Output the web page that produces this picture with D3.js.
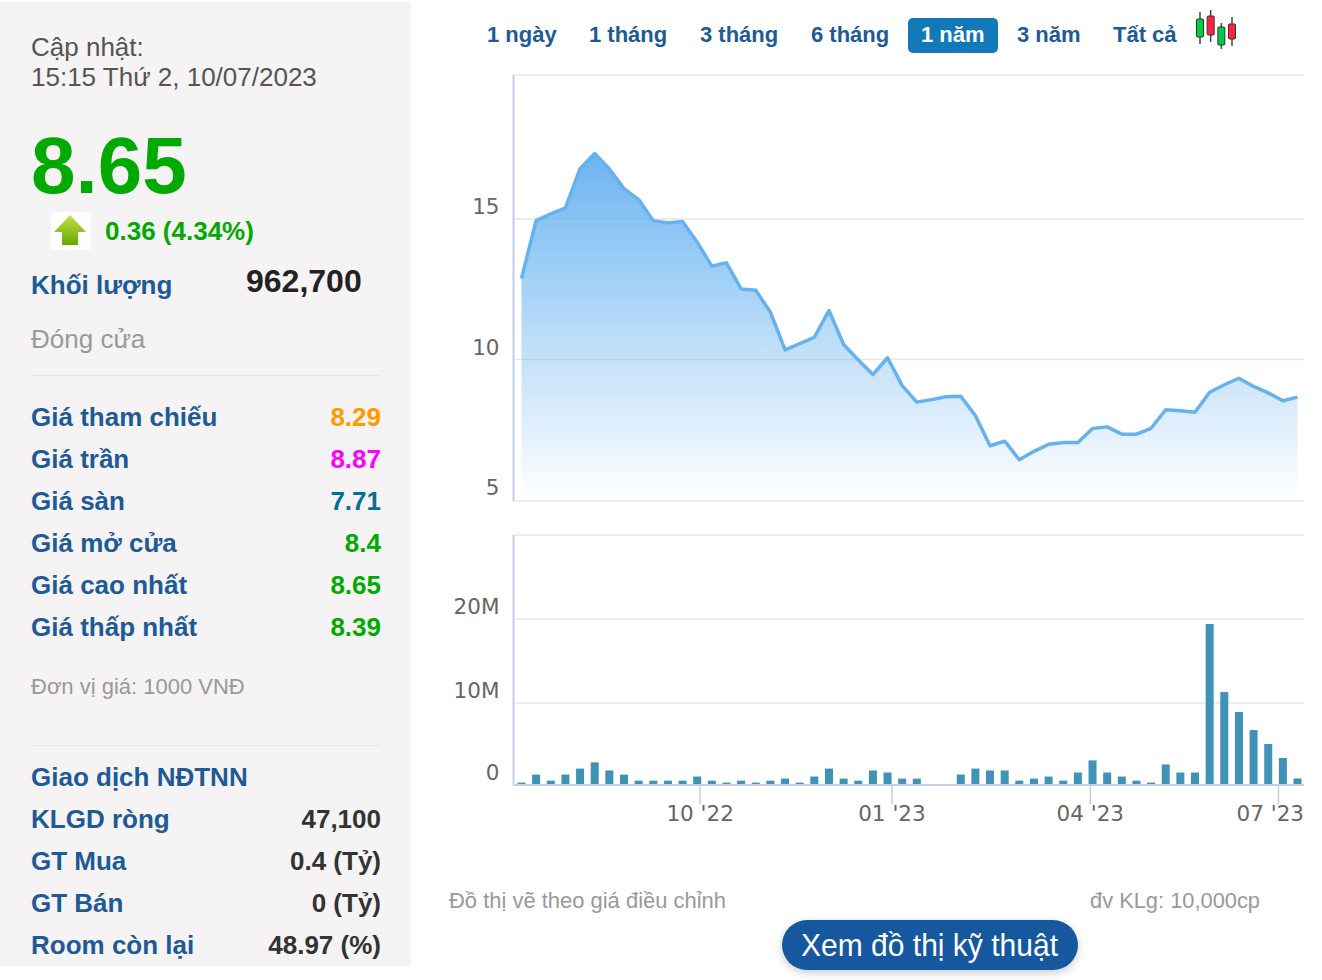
<!DOCTYPE html>
<html>
<head>
<meta charset="utf-8">
<script src="https://cdn.jsdelivr.net/npm/d3@7"></script>
<style>
  html, body { margin: 0; padding: 0; background: #fff; }
  svg { display: block; }
  text { font-family: "Liberation Sans", Arial, sans-serif; }
  .axis text { font-family: "DejaVu Sans", sans-serif; font-size: 21.5px; fill: #666; }
  .axis .domain { display: none; }
</style>
</head>
<body>
<svg id="chart" width="1322" height="980"></svg>
<script>
// weekly closing price, one value per week
const prices = [12.9, 14.96, 15.2, 15.41, 16.81, 17.35, 16.8, 16.1, 15.71, 14.96, 14.88, 14.93, 14.19, 13.34,
  13.46, 12.53, 12.48, 11.7, 10.36, 10.58, 10.81, 11.76, 10.55, 10.0, 9.48, 10.08, 9.09, 8.5, 8.59, 8.69, 8.71,
  8.02, 6.95, 7.11, 6.45, 6.75, 7.0, 7.06, 7.06, 7.56, 7.62, 7.36, 7.36, 7.57, 8.23, 8.19, 8.14, 8.85, 9.12,
  9.35, 9.06, 8.83, 8.55, 8.68];
// weekly volume in millions of shares
const volumes = [0.29, 1.27, 0.53, 1.27, 2.0, 2.76, 1.77, 1.27, 0.53, 0.53, 0.53, 0.53, 1.03, 0.53, 0.29, 0.53,
  0.29, 0.53, 0.78, 0.29, 1.03, 2.0, 0.78, 0.53, 1.77, 1.52, 0.78, 0.78, 0, 0, 1.27, 2.0, 1.77, 1.77, 0.53, 0.78,
  1.03, 0.53, 1.52, 3.0, 1.52, 1.03, 0.53, 0.29, 2.51, 1.52, 1.52, 19.4, 11.3, 8.9, 6.7, 5.0, 3.3, 0.8];

const priceTicks = [5, 10, 15];
const volumeTicks = [0, 10, 20];
const volumeLabels = ["0", "10M", "20M"];
const monthTicks = [12.2, 25.3, 38.85, 51.7];
const monthLabels = ["10 '22", "01 '23", "04 '23", "07 '23"];

const ranges = ["1 ngày", "1 tháng", "3 tháng", "6 tháng", "1 năm", "3 năm", "Tất cả"];
const activeRange = "1 năm";

const quoteLabels = ["Giá tham chiếu", "Giá trần", "Giá sàn", "Giá mở cửa", "Giá cao nhất", "Giá thấp nhất"];
const quoteValues = ["8.29", "8.87", "7.71", "8.4", "8.65", "8.39"];
const foreignLabels = ["KLGD ròng", "GT Mua", "GT Bán", "Room còn lại"];
const foreignValues = ["47,100", "0.4 (Tỷ)", "0 (Tỷ)", "48.97 (%)"];

const svg = d3.select("#chart");
const BLUE = "#1d5a96";
const GREEN = "#00aa00";

// gradient for the price area
const defs = svg.append("defs");
const grad = defs.append("linearGradient").attr("id", "areaFill")
  .attr("x1", 0).attr("y1", 0).attr("x2", 0).attr("y2", 1);
grad.append("stop").attr("offset", "0%").attr("stop-color", "#64b0f0").attr("stop-opacity", 0.95);
grad.append("stop").attr("offset", "100%").attr("stop-color", "#6ab4f0").attr("stop-opacity", 0);
const arrowGrad = defs.append("linearGradient").attr("id", "arrowFill")
  .attr("x1", 0).attr("y1", 0).attr("x2", 0).attr("y2", 1);
arrowGrad.append("stop").attr("offset", "0%").attr("stop-color", "#c4e04a");
arrowGrad.append("stop").attr("offset", "100%").attr("stop-color", "#66a800");
const shadow = defs.append("filter").attr("id", "btnShadow")
  .attr("x", "-10%").attr("y", "-30%").attr("width", "120%").attr("height", "170%");
shadow.append("feDropShadow").attr("dx", 0).attr("dy", 3).attr("stdDeviation", 4)
  .attr("flood-color", "#000").attr("flood-opacity", 0.2);

// Left panel
svg.append("rect").attr("x", 0).attr("y", 2).attr("width", 411).attr("height", 964).attr("fill", "#f5f3f4");

const addText = (str, x, y, size, color, opts = {}) =>
  svg.append("text").text(str).attr("x", x).attr("y", y)
    .attr("font-size", size).attr("fill", color)
    .attr("font-weight", opts.bold ? "bold" : "normal")
    .attr("text-anchor", opts.anchor || "start");

addText("Cập nhật:", 31, 56, 26, "#555");
addText("15:15 Thứ 2, 10/07/2023", 31, 86, 26, "#555");
addText("8.65", 31, 193, 80, GREEN, { bold: true });

svg.append("rect").attr("x", 51).attr("y", 212).attr("width", 40).attr("height", 38).attr("fill", "#fff");
svg.append("path").attr("d", "M70,215 L86,232 L78,232 L78,245 L62,245 L62,232 L54,232 Z").attr("fill", "url(#arrowFill)");
addText("0.36 (4.34%)", 105, 240, 26, GREEN, { bold: true });

addText("Khối lượng", 31, 294, 26, BLUE, { bold: true });
addText("962,700", 246, 292, 32, "#222", { bold: true });
addText("Đóng cửa", 31, 348, 26, "#999");

svg.append("line").attr("x1", 31).attr("x2", 381).attr("y1", 375.5).attr("y2", 375.5).attr("stroke", "#e8e6e7");
svg.append("line").attr("x1", 31).attr("x2", 381).attr("y1", 745.5).attr("y2", 745.5).attr("stroke", "#e8e6e7");

const quoteColors = ["#ff9900", "#ff00ff", "#006f9f", GREEN, GREEN, GREEN];
quoteLabels.forEach((d, i) => {
  addText(d, 31, 426 + i * 42, 26, BLUE, { bold: true });
  addText(quoteValues[i], 381, 426 + i * 42, 26, quoteColors[i], { bold: true, anchor: "end" });
});

addText("Đơn vị giá: 1000 VNĐ", 31, 694, 22, "#999");
addText("Giao dịch NĐTNN", 31, 786, 26, BLUE, { bold: true });
foreignLabels.forEach((d, i) => {
  addText(d, 31, 828 + i * 42, 26, BLUE, { bold: true });
  addText(foreignValues[i], 381, 828 + i * 42, 26, "#333", { bold: true, anchor: "end" });
});

// Range buttons
const rangeX = [487, 589, 700, 811, 921, 1017, 1113];
svg.append("rect").attr("x", 908).attr("y", 18).attr("width", 90).attr("height", 35).attr("rx", 5).attr("fill", "#1279b8");
ranges.forEach((d, i) => {
  addText(d, rangeX[i], 42, 22, d === activeRange ? "#fff" : BLUE, { bold: true });
});

// Candlestick icon
const iconHigh = [12, 10, 23, 17];
const iconLow = [44, 42, 49, 46];
const iconTop = [19, 16, 27, 24];
const iconBottom = [37, 35, 45, 39];
const iconColors = ["#00cc44", "#ff2244", "#00cc44", "#ff2244"];
const iconX = d3.scaleLinear().domain([0, 3]).range([1200, 1232]);
iconColors.forEach((c, i) => {
  svg.append("line").attr("x1", iconX(i)).attr("x2", iconX(i)).attr("y1", iconHigh[i]).attr("y2", iconLow[i])
    .attr("stroke", "#444").attr("stroke-width", 1.5);
  svg.append("rect").attr("x", iconX(i) - 3.5).attr("y", iconTop[i]).attr("width", 7)
    .attr("height", iconBottom[i] - iconTop[i]).attr("rx", 1).attr("fill", c)
    .attr("stroke", "#333").attr("stroke-width", 1);
});

// Charts
const plotLeft = 513.5;
const plotRight = 1304;
const AXIS_COLOR = "#c2cfe6";
const x = d3.scaleLinear().domain([0, prices.length - 1]).range([521.5, 1297.5]);
const yPrice = d3.scaleLinear().domain([5, 15]).range([500.5, 219.5]);
// the volume panel's zero sits a little off the linear scale in the reference
const yVolume = d3.scaleLinear().domain([0, 10, 20, 30]).range([785, 703, 619, 535]);

const styleGrid = (g) => {
  g.selectAll(".tick line").attr("stroke", "#e6e6e6").attr("stroke-width", 1.5);
  g.selectAll(".tick text").attr("dy", "-0.23em").attr("x", -14);
};

// price grid and labels
const priceAxis = svg.append("g").attr("class", "axis")
  .attr("transform", `translate(${plotLeft},0)`)
  .call(d3.axisLeft(yPrice).offset(-0.5).tickValues(priceTicks).tickSize(-(plotRight - plotLeft)));
styleGrid(priceAxis);
priceAxis.selectAll(".tick").filter((d) => d === 5).select("line").attr("stroke", "none");
svg.append("line").attr("x1", plotLeft).attr("x2", plotRight).attr("y1", 75).attr("y2", 75)
  .attr("stroke", "#e6e6e6").attr("stroke-width", 1.5);
svg.append("line").attr("x1", plotLeft).attr("x2", plotRight).attr("y1", 501).attr("y2", 501)
  .attr("stroke", "#e6e6e6").attr("stroke-width", 1.5);
svg.append("line").attr("x1", plotLeft).attr("x2", plotLeft).attr("y1", 75).attr("y2", 501)
  .attr("stroke", AXIS_COLOR).attr("stroke-width", 2);

// price area and line
const area = d3.area().x((d, i) => x(i)).y0(yPrice(5)).y1((d) => yPrice(d));
const line = d3.line().x((d, i) => x(i)).y((d) => yPrice(d));
svg.append("path").datum(prices).attr("d", area).attr("fill", "url(#areaFill)");
svg.append("path").datum(prices).attr("d", line).attr("fill", "none")
  .attr("stroke", "#66b2ee").attr("stroke-width", 3.5).attr("stroke-linejoin", "round");

// volume grid and labels
const volumeAxis = svg.append("g").attr("class", "axis")
  .attr("transform", `translate(${plotLeft},0)`)
  .call(d3.axisLeft(yVolume).offset(0).tickValues(volumeTicks)
    .tickFormat((d, i) => volumeLabels[i]).tickSize(-(plotRight - plotLeft)));
styleGrid(volumeAxis);
volumeAxis.selectAll(".tick").filter((d) => d === 0).select("line").attr("stroke", "none");
svg.append("line").attr("x1", plotLeft).attr("x2", plotRight).attr("y1", 535).attr("y2", 535)
  .attr("stroke", "#e6e6e6").attr("stroke-width", 1.5);
svg.append("line").attr("x1", plotLeft).attr("x2", plotLeft).attr("y1", 535).attr("y2", 785)
  .attr("stroke", AXIS_COLOR).attr("stroke-width", 2);

// volume bars
svg.append("g").selectAll("rect").data(volumes).join("rect")
  .attr("x", (d, i) => x(i) - 4)
  .attr("width", 8)
  .attr("y", (d) => yVolume(d))
  .attr("height", (d) => yVolume(0) - yVolume(d))
  .attr("fill", "#3f93b6");

// month axis
const monthAxis = svg.append("g").attr("class", "axis")
  .attr("transform", `translate(0,${yVolume(0)})`)
  .call(d3.axisBottom(x).offset(0).tickValues(monthTicks).tickFormat((d, i) => monthLabels[i]).tickSize(19).tickPadding(2));
monthAxis.selectAll(".tick line").attr("stroke", AXIS_COLOR).attr("stroke-width", 1.5);
// last label is pushed back inside the plot, its tick stays put
monthAxis.selectAll(".tick").filter((d) => d === monthTicks[3]).select("text")
  .attr("text-anchor", "end").attr("x", plotRight - x(monthTicks[3]));
svg.append("line").attr("x1", plotLeft).attr("x2", plotRight).attr("y1", yVolume(0)).attr("y2", yVolume(0))
  .attr("stroke", AXIS_COLOR).attr("stroke-width", 2);

// Footer
addText("Đồ thị vẽ theo giá điều chỉnh", 449, 908, 22, "#999").attr("textLength", 277).attr("lengthAdjust", "spacingAndGlyphs");
addText("đv KLg: 10,000cp", 1090, 908, 22, "#999").attr("textLength", 170).attr("lengthAdjust", "spacingAndGlyphs");
svg.append("rect").attr("x", 782).attr("y", 920).attr("width", 296).attr("height", 50).attr("rx", 25)
  .attr("fill", "#14589f").attr("filter", "url(#btnShadow)");
addText("Xem đồ thị kỹ thuật", 801, 956, 32, "#fff").attr("textLength", 257).attr("lengthAdjust", "spacingAndGlyphs");
</script>
</body>
</html>
